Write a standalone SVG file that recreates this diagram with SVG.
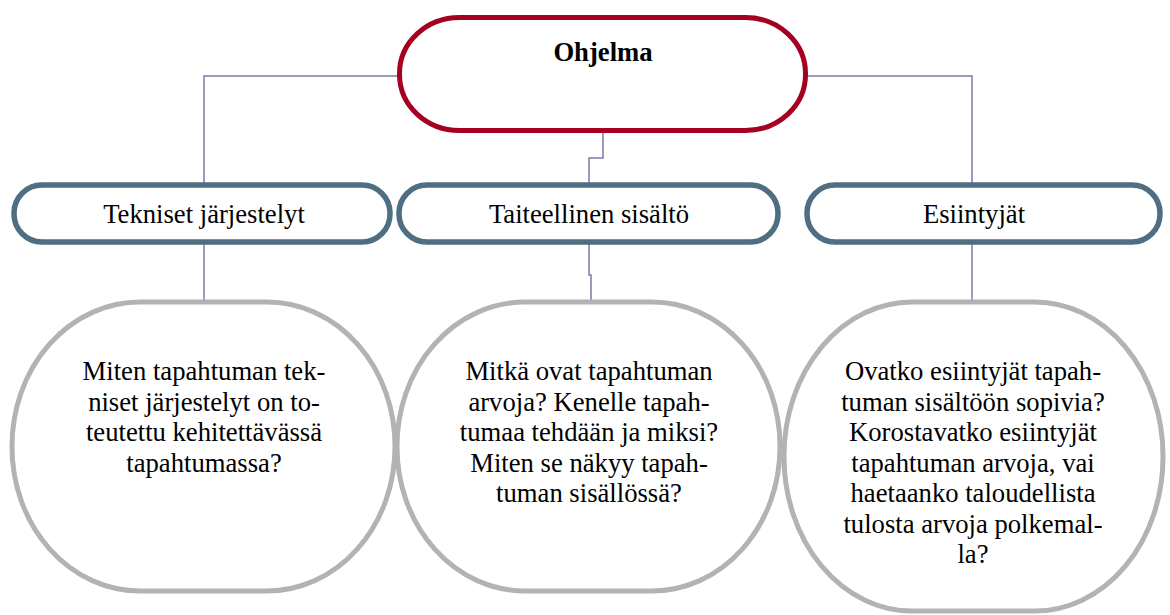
<svg xmlns="http://www.w3.org/2000/svg" width="1170" height="615" viewBox="0 0 1170 615">
<style>
.conn{fill:none;stroke:#7D7AAE;stroke-width:1.5}
.top{fill:#fff;stroke:#A50021;stroke-width:5}
.mid{fill:#fff;stroke:#4E6E82;stroke-width:5.5}
.bot{fill:#fff;stroke:#B3B3B3;stroke-width:5}
.t{font-size:26.67px;fill:#000;text-anchor:middle}
.b{font-weight:bold}
</style>
<rect width="1170" height="615" fill="#fff"/>
<g id="connectors">
<path class="conn" d="M399,76 H204 V185"/>
<path class="conn" d="M806,76 H972 V185"/>
<path class="conn" d="M603,131 V158 H589 V185"/>
<path class="conn" d="M204,242 V302"/>
<path class="conn" d="M589,242 V275 H591 V302"/>
<path class="conn" d="M972,242 V302"/>
</g>
<g font-family="Liberation Serif, DejaVu Serif, serif">
<g id="node-ohjelma">
<rect class="top" x="399.5" y="17.5" width="406" height="113" rx="60" ry="56"/>
<text class="t b" x="603" y="61">Ohjelma</text>
</g>
<g id="node-tekniset">
<rect class="mid" x="14" y="185" width="376" height="57" rx="28" ry="28"/>
<text class="t" x="204" y="223">Tekniset järjestelyt</text>
</g>
<g id="node-taiteellinen">
<rect class="mid" x="399" y="185" width="379" height="57" rx="28" ry="28"/>
<text class="t" x="589" y="223">Taiteellinen sisältö</text>
</g>
<g id="node-esiintyjat">
<rect class="mid" x="807" y="185" width="353" height="57" rx="28" ry="28"/>
<text class="t" x="974" y="223">Esiintyjät</text>
</g>
<g id="node-q1">
<rect class="bot" x="12" y="302" width="383" height="289" rx="128" ry="144"/>
<text class="t" x="204" y="380">Miten tapahtuman tek-</text>
<text class="t" x="204" y="410.5">niset järjestelyt on to-</text>
<text class="t" x="204" y="441">teutettu kehitettävässä</text>
<text class="t" x="204" y="471.5">tapahtumassa?</text>
</g>
<g id="node-q2">
<rect class="bot" x="397" y="302" width="383" height="289" rx="128" ry="144"/>
<text class="t" x="589" y="380">Mitkä ovat tapahtuman</text>
<text class="t" x="589" y="410.5">arvoja? Kenelle tapah-</text>
<text class="t" x="589" y="441">tumaa tehdään ja miksi?</text>
<text class="t" x="589" y="471.5">Miten se näkyy tapah-</text>
<text class="t" x="589" y="502">tuman sisällössä?</text>
</g>
<g id="node-q3">
<rect class="bot" x="784" y="302" width="379" height="309" rx="128" ry="154"/>
<text class="t" x="973" y="380">Ovatko esiintyjät tapah-</text>
<text class="t" x="973" y="410.5">tuman sisältöön sopivia?</text>
<text class="t" x="973" y="441">Korostavatko esiintyjät</text>
<text class="t" x="973" y="471.5">tapahtuman arvoja, vai</text>
<text class="t" x="973" y="502">haetaanko taloudellista</text>
<text class="t" x="973" y="532.5">tulosta arvoja polkemal-</text>
<text class="t" x="973" y="563">la?</text>
</g>
</g>
</svg>
